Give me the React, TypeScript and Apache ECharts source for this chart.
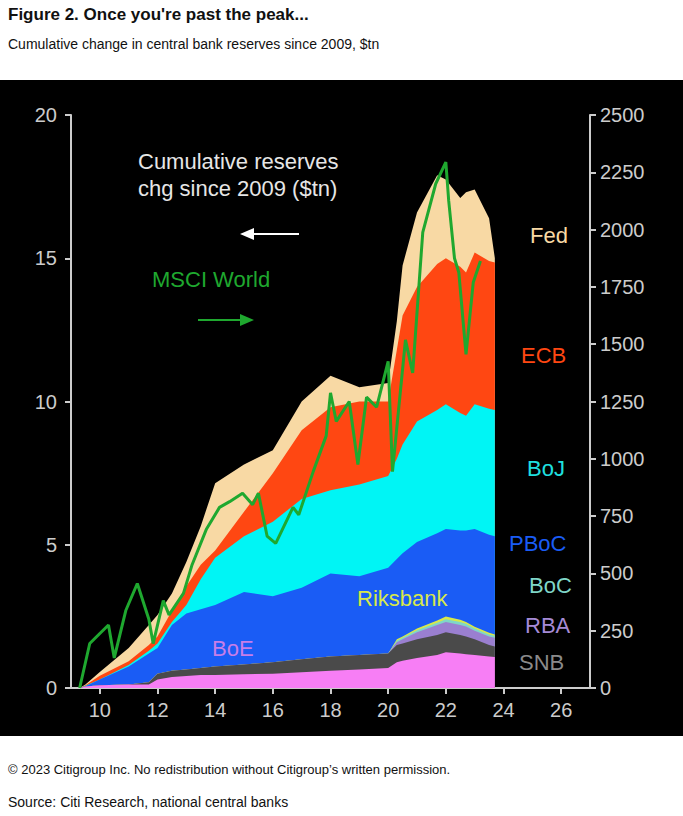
import React, { useEffect, useRef } from 'react';
import * as echarts from 'echarts';

// sample dates (fractional years) and layer top levels ($tn, cumulative stack)
const years = [9.3, 9.5, 10, 11, 11.7, 12, 12.5, 13, 13.5, 14, 15, 16, 17, 18, 19, 20, 20.3, 20.5, 21, 21.7, 22, 22.5, 22.7, 23, 23.5, 23.7];
const boeTop = [0, 0.05, 0.1, 0.12, 0.12, 0.3, 0.38, 0.42, 0.45, 0.45, 0.48, 0.5, 0.55, 0.6, 0.65, 0.7, 0.9, 0.95, 1.05, 1.15, 1.25, 1.2, 1.18, 1.15, 1.1, 1.08];
const snbTop = [0, 0.05, 0.1, 0.12, 0.2, 0.5, 0.6, 0.65, 0.7, 0.75, 0.82, 0.9, 1.0, 1.1, 1.15, 1.2, 1.5, 1.55, 1.7, 1.85, 1.95, 1.85, 1.8, 1.7, 1.5, 1.45];
const rbaTop = [0, 0.05, 0.1, 0.12, 0.2, 0.5, 0.6, 0.65, 0.7, 0.75, 0.82, 0.9, 1.0, 1.1, 1.15, 1.2, 1.6, 1.7, 1.95, 2.2, 2.3, 2.2, 2.15, 2.0, 1.8, 1.75];
const bocTop = [0, 0.05, 0.1, 0.12, 0.2, 0.5, 0.6, 0.65, 0.7, 0.75, 0.82, 0.9, 1.0, 1.1, 1.15, 1.2, 1.65, 1.75, 2.02, 2.28, 2.4, 2.3, 2.24, 2.08, 1.87, 1.82];
const riksTop = [0, 0.05, 0.1, 0.12, 0.2, 0.5, 0.6, 0.65, 0.7, 0.75, 0.82, 0.9, 1.0, 1.1, 1.15, 1.2, 1.7, 1.8, 2.08, 2.36, 2.5, 2.38, 2.3, 2.14, 1.93, 1.87];
const pbocTop = [0, 0.06, 0.3, 0.75, 1.2, 1.4, 2.2, 2.6, 2.75, 2.9, 3.35, 3.2, 3.5, 4.0, 3.9, 4.2, 4.5, 4.7, 5.1, 5.4, 5.55, 5.5, 5.5, 5.55, 5.35, 5.3];
const bojTop = [0, 0.08, 0.3, 0.8, 1.3, 1.55, 2.3, 2.9, 3.8, 4.55, 5.3, 5.8, 6.6, 6.9, 7.1, 7.4, 8.0, 8.5, 9.3, 9.7, 9.9, 9.6, 9.5, 9.9, 9.75, 9.7];
const ecbTop = [0, 0.1, 0.43, 0.93, 1.5, 1.8, 2.7, 3.55, 4.3, 4.8, 6.15, 7.5, 9.0, 9.8, 10.0, 10.0, 11.8, 13.0, 14.0, 14.8, 15.0, 14.7, 14.5, 15.2, 14.9, 14.85];
const fedTop = [0, 0.12, 0.56, 1.4, 2.2, 2.55, 3.3, 4.4, 5.65, 7.15, 7.8, 8.3, 10.0, 10.9, 10.5, 10.65, 12.8, 14.75, 16.6, 17.9, 17.75, 17.1, 17.3, 17.4, 16.4, 15.0];

// MSCI World index (right axis)
const msciYears = [9.3, 9.65, 10.0, 10.3, 10.5, 10.9, 11.3, 11.7, 11.85, 12.2, 12.4, 12.9, 13.2, 13.7, 14.15, 14.5, 14.95, 15.3, 15.5, 15.8, 16.1, 16.7, 16.9, 17.4, 17.85, 18.0, 18.2, 18.65, 18.95, 19.25, 19.6, 20.0, 20.15, 20.6, 20.85, 21.2, 21.65, 22.0, 22.1, 22.3, 22.45, 22.7, 22.95, 23.2];
const msciValues = [0, 194, 238, 275, 131, 338, 456, 300, 194, 381, 319, 413, 538, 694, 788, 813, 850, 800, 850, 663, 631, 788, 756, 944, 1100, 1288, 1163, 1250, 975, 1269, 1225, 1425, 944, 1519, 1375, 1988, 2200, 2294, 2125, 1875, 1813, 1456, 1769, 1863];

const xTicks = [10, 12, 14, 16, 18, 20, 22, 24, 26];

// drawn back to front: each area fills from 0 up to its cumulative top
const layers = [
  { name: 'Fed', top: fedTop, color: '#f8d9a4' },
  { name: 'ECB', top: ecbTop, color: '#ff4712' },
  { name: 'BoJ', top: bojTop, color: '#00f5f5' },
  { name: 'PBoC', top: pbocTop, color: '#1a5cf5' },
  { name: 'Riksbank', top: riksTop, color: '#d8e84a' },
  { name: 'BoC', top: bocTop, color: '#7fd6c8' },
  { name: 'RBA', top: rbaTop, color: '#9a7fd0' },
  { name: 'SNB', top: snbTop, color: '#4a4a4a' },
  { name: 'BoE', top: boeTop, color: '#f77ef5' },
];

const FONT = 'Liberation Sans Narrow, Liberation Sans, Arial, sans-serif';

const App: React.FC = () => {
  const chartRef = useRef<HTMLDivElement>(null);

  useEffect(() => {
    if (!chartRef.current) return;
    document.body.style.margin = '0';
    const chart = echarts.init(chartRef.current, undefined, { renderer: 'svg' });

    const series: any[] = layers.map((l, k) => ({
      name: l.name,
      type: 'line',
      symbol: 'none',
      lineStyle: { width: 0 },
      areaStyle: { color: l.color, opacity: 1, origin: 'start' },
      data: years.map((y, i) => [y, l.top[i]]),
      z: 2 + k * 0.01,
    }));
    series.push({
      name: 'MSCI World',
      type: 'line',
      yAxisIndex: 1,
      symbol: 'none',
      lineStyle: { width: 3, color: '#1fa82f' },
      data: msciYears.map((y, i) => [y, msciValues[i]]),
      z: 3,
    });

    const bankLabel = (text: string, x: number, y: number, color: string) => ({
      type: 'text', left: x, top: y,
      style: { text, fill: color, fontSize: 22, fontFamily: 'Liberation Sans, Arial, sans-serif' },
      z: 10,
    });

    chart.setOption({
      animation: false,
      backgroundColor: '#ffffff',
      grid: { left: 71, right: 93, top: 115, bottom: 128 },
      xAxis: {
        type: 'value', min: 9, max: 27,
        axisLine: { lineStyle: { color: '#cccccc', width: 2 } },
        axisTick: { customValues: xTicks, length: 6, lineStyle: { color: '#cccccc', width: 2 } },
        axisLabel: { customValues: xTicks, color: '#cccccc', fontSize: 20, fontFamily: FONT, margin: 12 },
        splitLine: { show: false },
      },
      yAxis: [
        {
          type: 'value', min: 0, max: 20, interval: 5, position: 'left',
          axisLine: { show: true, lineStyle: { color: '#cccccc', width: 2 } },
          axisTick: { show: true, length: 6, lineStyle: { color: '#cccccc', width: 2 } },
          axisLabel: { color: '#cccccc', fontSize: 20, fontFamily: FONT, margin: 14 },
          splitLine: { show: false },
        },
        {
          type: 'value', min: 0, max: 2500, interval: 250, position: 'right',
          axisLine: { show: true, lineStyle: { color: '#cccccc', width: 2 } },
          axisTick: { show: true, length: 6, lineStyle: { color: '#cccccc', width: 2 } },
          axisLabel: { color: '#cccccc', fontSize: 20, fontFamily: FONT, margin: 10, formatter: (v: number) => String(v) },
          splitLine: { show: false },
        },
      ],
      graphic: [
        { type: 'rect', left: 0, top: 80, shape: { width: 683, height: 656 }, style: { fill: '#000000' }, z: -10 },
        { type: 'text', left: 8, top: 6, style: { text: "Figure 2. Once you're past the peak...", fontSize: 17, fontWeight: 'bold', fill: '#111', fontFamily: FONT } },
        { type: 'text', left: 8, top: 37, style: { text: 'Cumulative change in central bank reserves since 2009, $tn', fontSize: 14, fill: '#111', fontFamily: FONT } },
        { type: 'text', left: 8, top: 763, style: { text: '© 2023 Citigroup Inc. No redistribution without Citigroup’s written permission.', fontSize: 13, fill: '#111', fontFamily: FONT } },
        { type: 'text', left: 8, top: 795, style: { text: 'Source: Citi Research, national central banks', fontSize: 14, fill: '#111', fontFamily: FONT } },
        { type: 'text', left: 138, top: 148, style: { text: 'Cumulative reserves\nchg since 2009 ($tn)', fontSize: 22, lineHeight: 27, fill: '#e6e6e6', align: 'center', fontFamily: 'Liberation Sans, Arial, sans-serif' }, z: 10 },
        { type: 'line', shape: { x1: 252, y1: 234, x2: 299, y2: 234 }, style: { stroke: '#ffffff', lineWidth: 2 }, z: 10 },
        { type: 'polygon', shape: { points: [[240, 234], [254, 228], [254, 240]] }, style: { fill: '#ffffff' }, z: 10 },
        { type: 'text', left: 152, top: 268, style: { text: 'MSCI World', fontSize: 22, fill: '#1fa82f', fontFamily: 'Liberation Sans, Arial, sans-serif' }, z: 10 },
        { type: 'line', shape: { x1: 198, y1: 320, x2: 242, y2: 320 }, style: { stroke: '#1fa82f', lineWidth: 2 }, z: 10 },
        { type: 'polygon', shape: { points: [[254, 320], [240, 314], [240, 326]] }, style: { fill: '#1fa82f' }, z: 10 },
        bankLabel('Fed', 530, 224, '#f8d9a4'),
        bankLabel('ECB', 521, 344, '#ff4712'),
        bankLabel('BoJ', 527, 457, '#1fe0e0'),
        bankLabel('PBoC', 509, 532, '#1a5cf5'),
        bankLabel('BoC', 529, 574, '#7fd6c8'),
        bankLabel('RBA', 525, 614, '#a58ad6'),
        bankLabel('SNB', 519, 651, '#8a8a8a'),
        bankLabel('Riksbank', 357, 587, '#d8e84a'),
        bankLabel('BoE', 212, 637, '#c77ee8'),
      ],
      series,
    });

    return () => chart.dispose();
  }, []);

  return <div ref={chartRef} style={{ width: 683, height: 816 }} />;
};

export default App;
